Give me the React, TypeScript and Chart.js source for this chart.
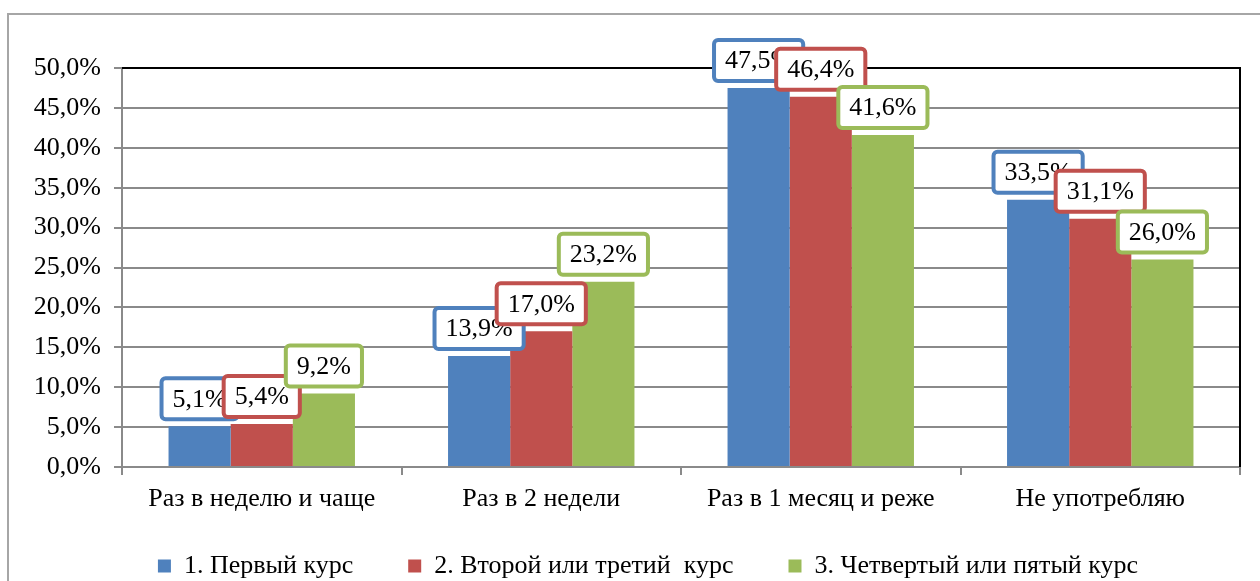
import React, { useEffect, useRef } from "react";
import { Chart, registerables } from "chart.js";

Chart.register(...registerables);

const categories = [
  "Раз в неделю и чаще",
  "Раз в 2 недели",
  "Раз в 1 месяц и реже",
  "Не употребляю",
];
const seriesNames = [
  "1. Первый курс",
  "2. Второй или третий  курс",
  "3. Четвертый или пятый курс",
];
const firstCourse = [5.1, 13.9, 47.5, 33.5];
const secondThirdCourse = [5.4, 17.0, 46.4, 31.1];
const fourthFifthCourse = [9.2, 23.2, 41.6, 26.0];
const seriesColors = ["#4F81BD", "#C0504D", "#9BBB59"];
const yMin = 0;
const yMax = 50;
const yStep = 5;

const FONT = '"Liberation Serif", "Times New Roman", serif';
const fmt = (v: number) => v.toFixed(1).replace(".", ",") + "%";

const framePlugin = {
  id: "frame",
  afterLayout(chart: any) {
    const lg = chart.legend;
    if (lg) {
      lg.top -= 19;
      lg.bottom -= 19;
      lg.left += 28;
      lg.right += 28;
    }
  },
  beforeDraw(chart: any) {
    const ctx = chart.ctx;
    ctx.save();
    ctx.fillStyle = "#ffffff";
    ctx.fillRect(0, 0, chart.width, chart.height);
    ctx.strokeStyle = "#a6a6a6";
    ctx.lineWidth = 2;
    ctx.strokeRect(8, 14, chart.width + 40, chart.height + 40);
    ctx.restore();
  },
  beforeDatasetsDraw(chart: any) {
    const { ctx, chartArea } = chart;
    ctx.save();
    ctx.strokeStyle = "#000000";
    ctx.lineWidth = 2;
    ctx.beginPath();
    ctx.moveTo(chartArea.left, chartArea.top);
    ctx.lineTo(chartArea.right, chartArea.top);
    ctx.lineTo(chartArea.right, chartArea.bottom);
    ctx.stroke();
    ctx.restore();
  },
};

const labelPlugin = {
  id: "boxLabels",
  afterDatasetsDraw(chart: any) {
    const ctx = chart.ctx;
    ctx.save();
    ctx.font = `26px ${FONT}`;
    ctx.textAlign = "center";
    ctx.textBaseline = "middle";
    chart.data.datasets.forEach((ds: any, i: number) => {
      const meta = chart.getDatasetMeta(i);
      meta.data.forEach((bar: any, j: number) => {
        const text = fmt(ds.data[j]);
        const tw = ctx.measureText(text).width;
        const w = tw + 22;
        const h = 41;
        const x = bar.x - w / 2;
        const y = bar.y - 7 - h;
        ctx.beginPath();
        (ctx as any).roundRect(x, y, w, h, 4);
        ctx.fillStyle = "#ffffff";
        ctx.fill();
        ctx.lineWidth = 4;
        ctx.strokeStyle = seriesColors[i];
        ctx.stroke();
        ctx.fillStyle = "#000000";
        ctx.fillText(text, bar.x, y + h / 2 + 1);
      });
    });
    ctx.restore();
  },
};

export default function App() {
  const ref = useRef<HTMLCanvasElement>(null);
  useEffect(() => {
    if (!ref.current) return;
    let chart: any = null;
    let cancelled = false;
    const build = () => {
      if (cancelled || !ref.current) return;
      const series = [firstCourse, secondThirdCourse, fourthFifthCourse];
      chart = new Chart(ref.current, {
        type: "bar",
        data: {
          labels: categories,
          datasets: series.map((d, i) => ({
            label: seriesNames[i],
            data: d,
            backgroundColor: seriesColors[i],
            borderWidth: 0,
            categoryPercentage: 0.667,
            barPercentage: 1,
          })),
        },
        options: {
          animation: false,
          responsive: true,
          maintainAspectRatio: false,
          layout: { padding: { left: 0, top: 68, right: 20, bottom: 0 } },
          plugins: {
            tooltip: { enabled: false },
            title: { display: false },
            legend: {
              position: "bottom",
              labels: {
                boxWidth: 13,
                boxHeight: 13,
                padding: 55,
                color: "#000",
                font: { family: FONT, size: 26 },
              },
            },
          },
          scales: {
            x: {
              grid: {
                display: true,
                drawOnChartArea: false,
                drawTicks: true,
                tickLength: 8,
                offset: true,
                color: "#8a8a8a",
                lineWidth: 2,
              },
              border: { display: true, color: "#8a8a8a", width: 2 },
              ticks: {
                color: "#000",
                font: { family: FONT, size: 26 },
                padding: 9,
                maxRotation: 0,
              },
              afterFit(scale: any) {
                scale.height = 50;
              },
            },
            y: {
              min: yMin,
              max: yMax,
              grid: {
                color: "#8a8a8a",
                lineWidth: 2,
                tickLength: 8,
              },
              border: { display: true, color: "#8a8a8a", width: 2 },
              ticks: {
                stepSize: yStep,
                color: "#000",
                padding: 13,
                font: { family: FONT, size: 26 },
                callback: (v: any) => fmt(Number(v)),
              },
              afterFit(scale: any) {
                scale.width = 122;
              },
            },
          },
        },
        plugins: [framePlugin, labelPlugin],
      });
    };
    const fonts: any = (document as any).fonts;
    if (fonts && fonts.load) {
      fonts.load('26px "Liberation Serif"').then(build, build);
    } else {
      build();
    }
    return () => {
      cancelled = true;
      if (chart) chart.destroy();
    };
  }, []);
  return (
    <div style={{ position: "fixed", left: 0, top: 0, width: 1260, height: 608 }}>
      <canvas ref={ref} />
    </div>
  );
}
